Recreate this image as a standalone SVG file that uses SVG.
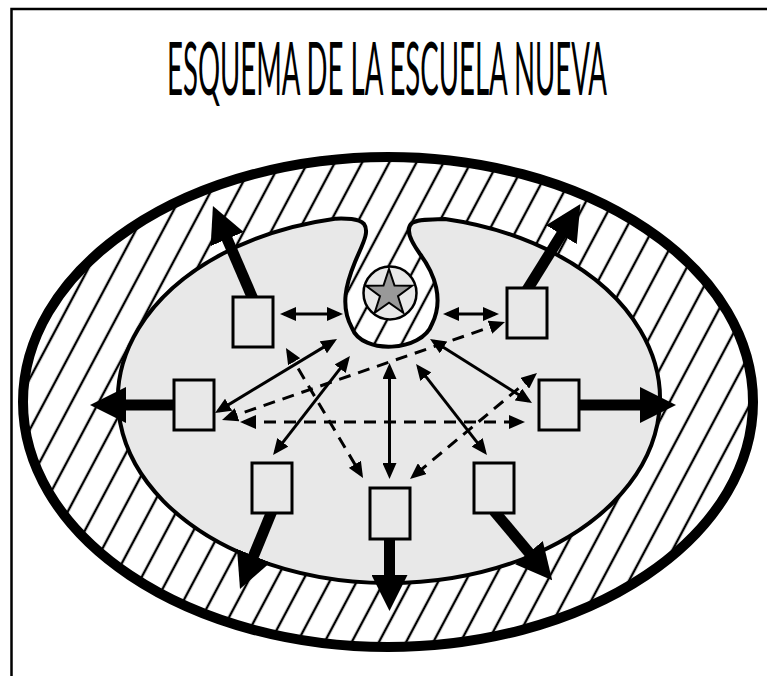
<svg xmlns="http://www.w3.org/2000/svg" width="767" height="676" viewBox="0 0 767 676">
<style>
.title{font-family:"Lato","Roboto","Liberation Sans",sans-serif;font-weight:400;font-size:74px;fill:#000;}
.node{fill:#e8e8e8;stroke:#000;stroke-width:3;}
.thick{stroke:#000;stroke-width:11;fill:none;marker-end:url(#bigHead);}
.thin{stroke:#000;stroke-width:3;fill:none;marker-start:url(#smallHead);marker-end:url(#smallHead);}
.dash{stroke-dasharray:12 8;}
</style>
<defs>
<pattern id="hatch" patternUnits="userSpaceOnUse" width="24" height="24" patternTransform="rotate(28)">
<rect x="0" y="0" width="24" height="24" fill="#fff"/>
<line x1="12" y1="-1" x2="12" y2="25" stroke="#000" stroke-width="2.4"/>
</pattern>
<marker id="bigHead" markerUnits="userSpaceOnUse" viewBox="0 0 36 36" markerWidth="36" markerHeight="36" refX="7" refY="18" orient="auto">
<path d="M0,0 L36,18 L0,36 Z" fill="#000"/>
</marker>
<marker id="smallHead" markerUnits="userSpaceOnUse" viewBox="0 0 16 14" markerWidth="16" markerHeight="14" refX="12" refY="7" orient="auto-start-reverse">
<path d="M0,0 L16,7 L0,14 Z" fill="#000"/>
</marker>
</defs>

<rect x="0" y="0" width="767" height="676" fill="#fff"/>
<path id="frame" d="M11.5,680 V9 H770" fill="none" stroke="#000" stroke-width="2.5"/>

<g transform="translate(167,95) scale(0.5,1)">
<text class="title" x="0" y="0" textLength="880" lengthAdjust="spacingAndGlyphs">ESQUEMA DE LA ESCUELA NUEVA</text>
</g>

<g id="society">
<ellipse cx="388" cy="402" rx="365" ry="245" fill="url(#hatch)"/>
</g>
<g id="school">
<path d="M335,218.7 A271,184 0 1 0 445,219 C430,219.5 418,219 412,223 C405,229 410,240 420,254 C435,274 444,300 432,324 C422,352 362,355 352,328 C340,306 346,284 355,262 C362,245 370,232 364,224 C358,218 345,218.5 335,218.7 Z" fill="#e8e8e8" stroke="#000" stroke-width="4" stroke-linejoin="round"/>
</g>
<ellipse cx="388" cy="402" rx="365" ry="245" fill="none" stroke="#000" stroke-width="10"/>

<g id="teacher">
<circle cx="390" cy="293" r="26.5" fill="#e8e8e8" stroke="#000" stroke-width="2.5"/>
<polygon points="389,269 394.5,285.5 412.1,285.7 398,296.2 403.3,312.8 389,302.8 374.7,312.8 380,296.2 365.9,285.7 383.5,285.5" fill="#999" stroke="#000" stroke-width="2" stroke-linejoin="miter"/>
</g>

<g id="connectors">
<line class="thick" x1="253" y1="299" x2="224.4" y2="232.6"/>
<line class="thick" x1="527" y1="290" x2="565.1" y2="228.7"/>
<line class="thick" x1="176" y1="405" x2="119" y2="405"/>
<line class="thick" x1="577" y1="405" x2="647" y2="405"/>
<line class="thick" x1="272" y1="511" x2="251" y2="562.2"/>
<line class="thick" x1="389.5" y1="537" x2="389.5" y2="582"/>
<line class="thick" x1="494" y1="511" x2="533.5" y2="558"/>

<line class="thin" x1="284" y1="314" x2="339" y2="314"/>
<line class="thin" x1="447" y1="314" x2="495" y2="314"/>
<line class="thin" x1="218.4" y1="410.9" x2="333.6" y2="341.1"/>
<line class="thin" x1="275.5" y1="451.8" x2="347.5" y2="359.2"/>
<line class="thin" x1="389.5" y1="367" x2="389.5" y2="475"/>
<line class="thin" x1="433.4" y1="341.1" x2="528.6" y2="400.9"/>
<line class="thin" x1="418.5" y1="367.2" x2="484.5" y2="451.8"/>

<line class="thin dash" x1="225.8" y1="418.7" x2="501.2" y2="323.3"/>
<line class="thin dash" x1="244" y1="422" x2="521" y2="422"/>
<line class="thin dash" x1="288" y1="351.4" x2="361" y2="474.6"/>
<line class="thin dash" x1="533.9" y1="375.6" x2="413.1" y2="476.4"/>
</g>

<g id="node-tl"><rect class="node" x="233" y="297" width="40" height="50"/></g>
<g id="node-tr"><rect class="node" x="507" y="288" width="40" height="50"/></g>
<g id="node-l"><rect class="node" x="174" y="380" width="40" height="50"/></g>
<g id="node-r"><rect class="node" x="539" y="380" width="40" height="50"/></g>
<g id="node-bl"><rect class="node" x="252" y="463" width="40" height="50"/></g>
<g id="node-bc"><rect class="node" x="370" y="488" width="40" height="51"/></g>
<g id="node-br"><rect class="node" x="474" y="463" width="40" height="50"/></g>
</svg>
